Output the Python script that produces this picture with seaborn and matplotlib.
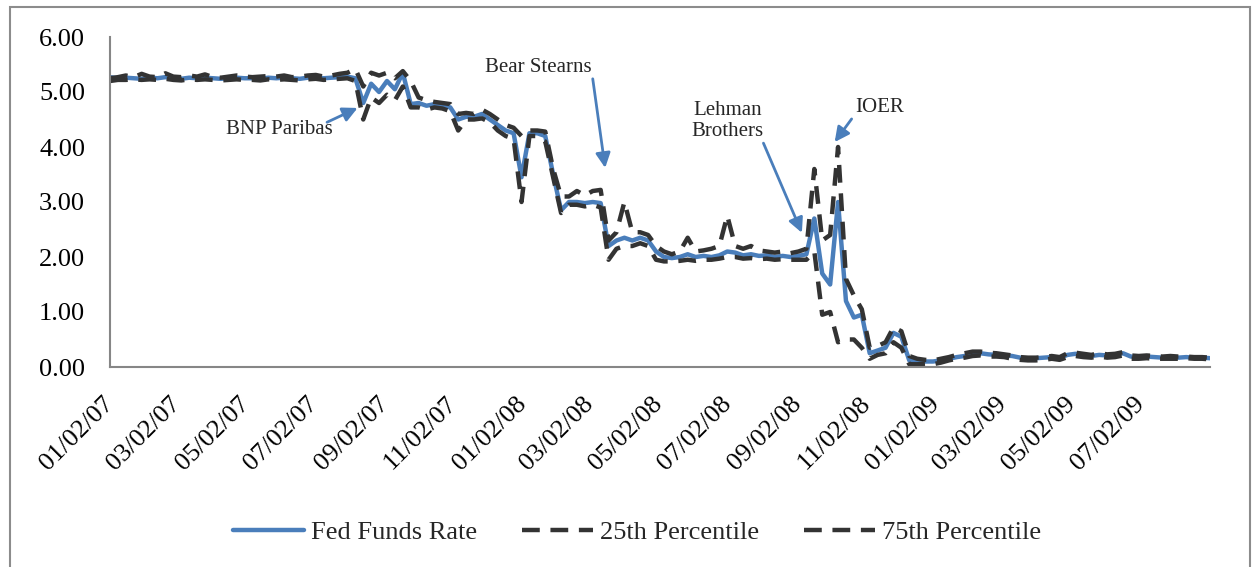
"""   Fed funds rate with the 25th and 75th percentile of the daily trades, 2007-2009   """

import matplotlib.pyplot as plt
import matplotlib.dates as mdates
from matplotlib.patches import Rectangle
import numpy as np
import pandas as pd
import seaborn as sns

# ~~~~~~~~~~   Data (weekly readings)   ~~~~~~~~~~~~~~~~~~~~~~~~~~~~~~~~~~~~~~~~~~~~~~~ #
dates = pd.date_range('2007-01-02', periods=140, freq='7D')

fed_funds = [5.27, 5.25, 5.26, 5.25, 5.24, 5.26, 5.25, 5.27, 5.25, 5.24,
             5.26, 5.25, 5.26, 5.25, 5.24, 5.25, 5.26, 5.25, 5.25, 5.24,
             5.26, 5.25, 5.26, 5.25, 5.24, 5.26, 5.27, 5.25, 5.26, 5.27,
             5.28, 5.25, 4.80, 5.15, 5.00, 5.20, 5.05, 5.35, 4.78, 4.80,
             4.75, 4.78, 4.75, 4.72, 4.50, 4.55, 4.55, 4.60, 4.50, 4.40,
             4.30, 4.25, 3.45, 4.25, 4.25, 4.20, 3.50, 2.85, 3.00, 3.00,
             2.98, 3.00, 2.98, 2.20, 2.30, 2.35, 2.30, 2.35, 2.30, 2.10,
             2.00, 1.98, 2.00, 2.05, 2.00, 2.02, 2.00, 2.03, 2.10, 2.08,
             2.03, 2.05, 2.02, 2.03, 2.00, 2.02, 2.00, 2.02, 2.05, 2.70,
             1.70, 1.50, 3.00, 1.20, 0.90, 0.95, 0.25, 0.30, 0.35, 0.62,
             0.55, 0.12, 0.12, 0.10, 0.10, 0.12, 0.15, 0.18, 0.20, 0.24,
             0.25, 0.23, 0.22, 0.21, 0.20, 0.17, 0.15, 0.16, 0.17, 0.18,
             0.17, 0.22, 0.24, 0.21, 0.20, 0.22, 0.21, 0.22, 0.25, 0.19,
             0.18, 0.19, 0.18, 0.17, 0.18, 0.17, 0.18, 0.17, 0.17, 0.16]

pct_25 = [5.20, 5.22, 5.22, 5.23, 5.22, 5.23, 5.22, 5.24, 5.22, 5.21,
          5.23, 5.22, 5.23, 5.22, 5.21, 5.22, 5.23, 5.22, 5.22, 5.21,
          5.23, 5.22, 5.23, 5.22, 5.21, 5.23, 5.24, 5.22, 5.23, 5.24,
          5.25, 5.20, 4.50, 4.90, 4.80, 4.95, 4.85, 5.10, 4.72, 4.72,
          4.68, 4.72, 4.70, 4.65, 4.30, 4.50, 4.50, 4.52, 4.45, 4.30,
          4.20, 4.15, 3.00, 4.20, 4.20, 4.10, 3.45, 2.80, 2.95, 2.95,
          2.92, 2.95, 2.90, 1.95, 2.15, 2.20, 2.20, 2.25, 2.20, 1.95,
          1.92, 1.92, 1.93, 1.95, 1.93, 1.95, 1.95, 1.97, 2.00, 2.00,
          1.97, 1.98, 1.96, 1.97, 1.95, 1.96, 1.95, 1.95, 1.95, 2.10,
          0.95, 1.00, 0.45, 0.50, 0.50, 0.35, 0.15, 0.22, 0.25, 0.45,
          0.35, 0.05, 0.05, 0.06, 0.05, 0.08, 0.12, 0.15, 0.17, 0.20,
          0.21, 0.19, 0.19, 0.18, 0.15, 0.13, 0.12, 0.12, 0.13, 0.15,
          0.13, 0.18, 0.20, 0.18, 0.17, 0.19, 0.17, 0.18, 0.21, 0.15,
          0.15, 0.16, 0.15, 0.15, 0.15, 0.15, 0.16, 0.15, 0.15, 0.14]

pct_75 = [5.25, 5.27, 5.30, 5.27, 5.33, 5.28, 5.27, 5.34, 5.28, 5.27,
          5.30, 5.28, 5.32, 5.27, 5.26, 5.28, 5.30, 5.28, 5.27, 5.28,
          5.29, 5.28, 5.30, 5.27, 5.28, 5.30, 5.31, 5.28, 5.30, 5.33,
          5.35, 5.42, 5.10, 5.35, 5.30, 5.35, 5.25, 5.38, 5.20, 4.90,
          4.85, 4.82, 4.80, 4.78, 4.60, 4.62, 4.60, 4.68, 4.60, 4.50,
          4.40, 4.35, 4.20, 4.30, 4.30, 4.28, 3.60, 3.10, 3.10, 3.20,
          3.12, 3.20, 3.22, 2.30, 2.45, 3.00, 2.45, 2.45, 2.40, 2.20,
          2.10, 2.05, 2.10, 2.35, 2.10, 2.12, 2.15, 2.20, 2.75, 2.20,
          2.15, 2.20, 2.12, 2.10, 2.08, 2.10, 2.07, 2.10, 2.15, 3.60,
          2.30, 2.40, 4.00, 1.60, 1.30, 1.05, 0.35, 0.38, 0.45, 0.72,
          0.65, 0.20, 0.15, 0.13, 0.12, 0.15, 0.18, 0.22, 0.25, 0.28,
          0.28, 0.26, 0.25, 0.23, 0.21, 0.18, 0.17, 0.17, 0.18, 0.20,
          0.18, 0.25, 0.26, 0.24, 0.22, 0.25, 0.23, 0.24, 0.27, 0.21,
          0.20, 0.21, 0.20, 0.19, 0.20, 0.19, 0.19, 0.18, 0.18, 0.17]

series_names = ['Fed Funds Rate', '25th Percentile', '75th Percentile']

# event labels: text position, arrow tail, arrow head (date, rate)
event_labels = ['BNP Paribas', 'Bear Stearns', 'Lehman\nBrothers', 'IOER']
event_text = [('2007-06-01', 4.31), ('2008-01-16', 5.45), ('2008-07-01', 4.47), ('2008-11-13', 4.71)]
event_tail = [('2007-07-13', 4.45), ('2008-03-04', 5.24), ('2008-08-02', 4.07), ('2008-10-19', 4.51)]
event_head = [('2007-08-09', 4.71), ('2008-03-15', 3.62), ('2008-09-05', 2.44), ('2008-10-04', 4.09)]

# ~~~~~~~~~~   Plot   ~~~~~~~~~~~~~~~~~~~~~~~~~~~~~~~~~~~~~~~~~~~~~~~~~~~~~~~~~~~~~~~~~ #
sns.set_style('white')
plt.rcParams['font.family'] = ['Liberation Serif', 'DejaVu Serif']

blue = '#4a7ebb'
dark = '#333333'
axis_grey = '#868686'

df = pd.DataFrame({
    'date': np.tile(dates, 3),
    'rate': fed_funds + pct_25 + pct_75,
    'series': np.repeat(series_names, len(dates)),
})

fig = plt.figure(figsize=(12.57, 5.67), dpi=100)
ax = fig.add_axes([110 / 1257, 1 - 367 / 567, 1100 / 1257, 330 / 567])

sns.lineplot(data=df, x='date', y='rate', hue='series', style='series',
             palette={series_names[0]: blue, series_names[1]: dark, series_names[2]: dark},
             dashes={series_names[0]: '', series_names[1]: (4, 2.4), series_names[2]: (4, 2.4)},
             linewidth=3.2, estimator=None, ax=ax)

# axes cosmetics
ax.set_xlim(pd.Timestamp('2007-01-02'), pd.Timestamp('2009-09-01'))
ax.set_ylim(0, 6)
ax.set_yticks(np.arange(0, 7, 1))
ax.yaxis.set_major_formatter(plt.FormatStrFormatter('%.2f'))
ax.xaxis.set_major_locator(mdates.MonthLocator(bymonth=[1, 3, 5, 7, 9, 11], bymonthday=2))
ax.xaxis.set_major_formatter(mdates.DateFormatter('%m/%d/%y'))
ax.set_xlabel('')
ax.set_ylabel('')
ax.tick_params(axis='both', length=0, labelsize=19, colors='black')
ax.tick_params(axis='y', pad=18)
ax.tick_params(axis='x', pad=24)
for label in ax.get_xticklabels():
    label.set_rotation(45)
    label.set_ha('right')
    label.set_va('center')
    label.set_rotation_mode('anchor')

for side in ['top', 'right']:
    ax.spines[side].set_visible(False)
for side in ['left', 'bottom']:
    ax.spines[side].set_color(axis_grey)
    ax.spines[side].set_linewidth(1.5)

# event annotations with blue arrows
for label, txt, tail, head in zip(event_labels, event_text, event_tail, event_head):
    ax.text(pd.Timestamp(txt[0]), txt[1], label, fontsize=15, ha='center', va='center',
            linespacing=1.15)
    ax.annotate('', xy=(pd.Timestamp(head[0]), head[1]), xytext=(pd.Timestamp(tail[0]), tail[1]),
                arrowprops=dict(arrowstyle='-|>', color=blue, lw=2, mutation_scale=22,
                                shrinkA=0, shrinkB=0))

# legend below the chart
handles, labels = ax.get_legend_handles_labels()
ax.get_legend().remove()
fig.legend(handles, labels, loc='center', bbox_to_anchor=(637 / 1257, 1 - 532 / 567), ncol=3,
           frameon=False, fontsize=19, handlelength=2.7, handletextpad=0.25, columnspacing=1.7)

# outer chart border
fig.patches.append(Rectangle((10 / 1257, -0.05), 1240 / 1257, 1.05 - 7 / 567, transform=fig.transFigure,
                             fill=False, edgecolor='#8c8c8c', linewidth=1.5))

fig.savefig('out.png', dpi=100)
